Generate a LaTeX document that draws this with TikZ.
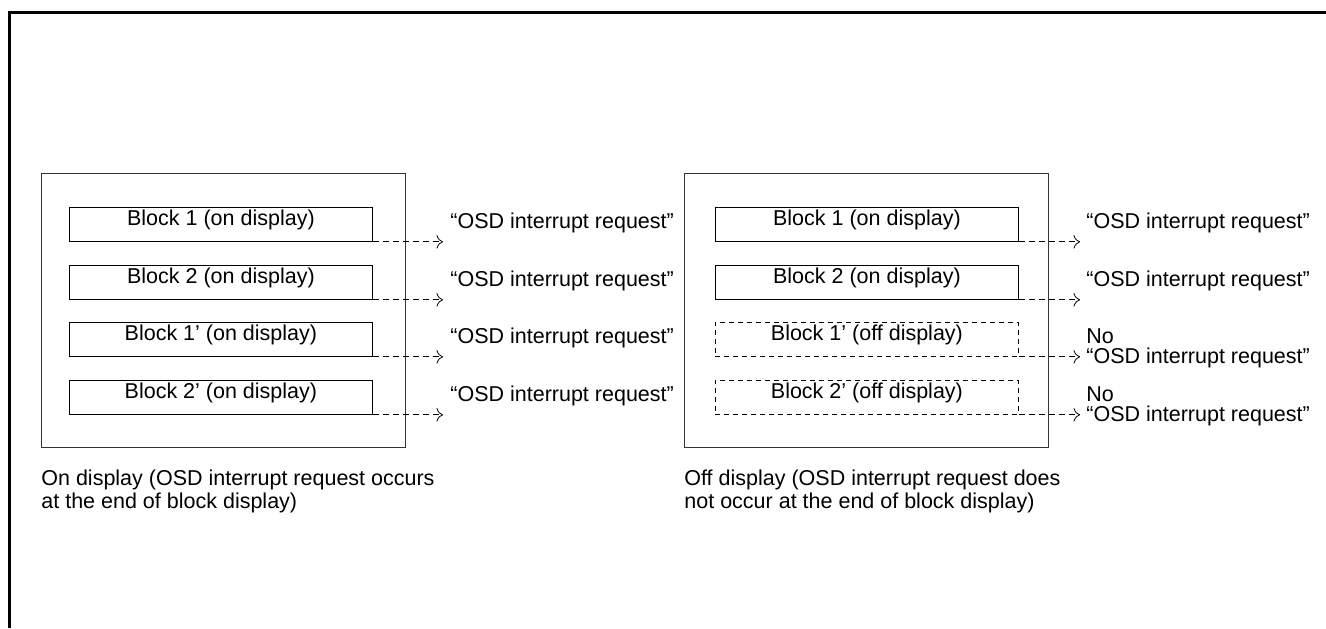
\documentclass[tikz,border=0pt]{standalone}
\usepackage{fontspec}
\setmainfont{Liberation Sans}
\usetikzlibrary{arrows.meta}
\begin{document}
\begin{tikzpicture}[x=0.5pt, y=-0.5pt, font=\fontsize{10.75}{10}\selectfont,
  panel/.style={draw=black!80, line width=0.5pt, minimum width=182pt, minimum height=137pt, inner sep=0pt, anchor=north west},
  block/.style={draw, line width=0.4pt, minimum width=151.5pt, minimum height=17pt, inner sep=0pt, text height=9pt, text depth=8pt, anchor=north west},
  offblock/.style={block, dash pattern=on 2.5pt off 2pt},
  req/.style={dash pattern=on 3pt off 2pt, -{To[scale=1.3]}, line width=0.4pt},
  reqtext/.style={anchor=base west, inner sep=0pt},
  notext/.style={anchor=west, inner sep=0pt, align=left},
  caption/.style={anchor=north west, inner sep=0pt, align=left}]
  \useasboundingbox (0,0) rectangle (1326,628);
  % outer frame
  \draw[line width=1.5pt] (9,628) -- (9,12) -- (1326,12);
  % the two panels
  \node[panel] (onpanel) at (41,173) {};
  \node[panel] (offpanel) at (684,173) {};
  \coordinate (onend) at (443,0);
  \coordinate (offend) at (1080,0);
  % on display
  \foreach \y/\name/\txt in {207/a/{Block 1}, 265/b/{Block 2}, 322/c/{Block 1’}, 380/d/{Block 2’}} {
    \node[block] (on\name) at (69,\y) {\txt{} (on display)};
    \draw[req] (on\name.south east) -- (on\name.south east -| onend);
    \node[reqtext] (onreq\name) at ([xshift=3.5pt, yshift=6.5pt] on\name.south east -| onend) {“OSD interrupt request”};
  }
  % off display
  \node[block] (offa) at (715,207) {Block 1 (on display)};
  \node[block] (offb) at (715,265) {Block 2 (on display)};
  \node[offblock] (offc) at (715,322) {Block 1’ (off display)};
  \node[offblock] (offd) at (715,380) {Block 2’ (off display)};
  \foreach \name in {a,b,c,d}
    \draw[req] (off\name.south east) -- (off\name.south east -| offend);
  \node[reqtext] (offreqa) at ([xshift=3pt, yshift=6.5pt] offa.south east -| offend) {“OSD interrupt request”};
  \node[reqtext] (offreqb) at ([xshift=3pt, yshift=6.5pt] offb.south east -| offend) {“OSD interrupt request”};
  \node[notext] (offreqc) at ([xshift=3pt, yshift=4pt] offc.south east -| offend) {No\\“OSD interrupt request”};
  \node[notext] (offreqd) at ([xshift=3pt, yshift=4pt] offd.south east -| offend) {No\\“OSD interrupt request”};
  % captions
  \node[caption] (oncap) at (41,470) {On display (OSD interrupt request occurs\\at the end of block display)};
  \node[caption] (offcap) at (684,470) {Off display (OSD interrupt request does\\not occur at the end of block display)};
\end{tikzpicture}
\end{document}
